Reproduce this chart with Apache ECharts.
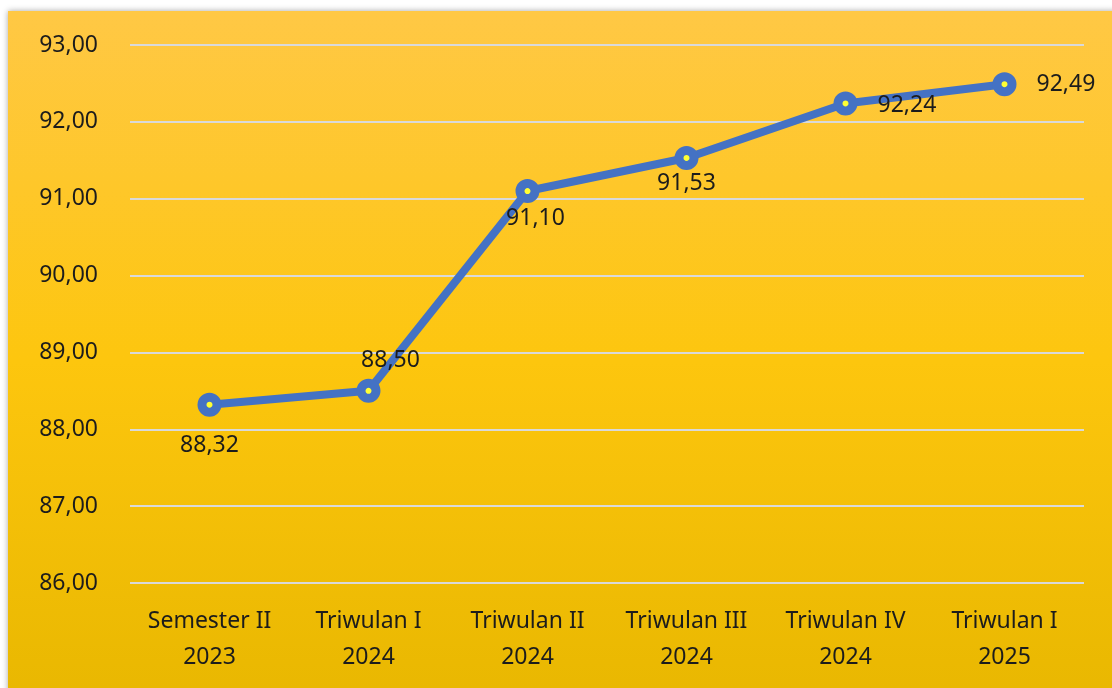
<!DOCTYPE html>
<html>
<head>
<meta charset="utf-8">
<script src="https://cdn.jsdelivr.net/npm/echarts@6/dist/echarts.min.js"></script>
<style>html,body{margin:0;padding:0;background:#fff}#c{width:1112px;height:688px}</style>
</head>
<body>
<div id="c"></div>
<script>
const categories = ['Semester II\n2023', 'Triwulan I\n2024', 'Triwulan II\n2024', 'Triwulan III\n2024', 'Triwulan IV\n2024', 'Triwulan I\n2025'];
const values = [88.32, 88.50, 91.10, 91.53, 92.24, 92.49];
const yMin = 86, yMax = 93, yStep = 1;

const labelOffsets = [[0, 3], [22, 1], [8, 2], [0, 0], [0, 2], [0, 0]];
const labelPositions = ['bottom', 'top', 'bottom', 'bottom', 'right', 'right'];
const labelDistances = [14, 8, 2, 2, 20, 20];

const fmt = v => v.toFixed(2).replace('.', ',');

const chart = echarts.init(document.getElementById('c'), null, {renderer: 'canvas'});
chart.setOption({
  animation: false,
  backgroundColor: '#ffffff',
  graphic: [{
    type: 'rect', z: -10, silent: true,
    shape: {x: 8, y: 11, width: 1120, height: 700},
    style: {
      fill: new echarts.graphic.LinearGradient(0, 0, 0, 1, [
        {offset: 0, color: '#FFC845'},
        {offset: 0.5, color: '#FDC60E'},
        {offset: 1, color: '#E8B700'}
      ]),
      shadowBlur: 6, shadowColor: 'rgba(0,0,0,0.35)', shadowOffsetX: 0, shadowOffsetY: 0
    }
  }],
  grid: {left: 130, right: 28, top: 45, bottom: 105},
  xAxis: {
    type: 'category', data: categories, boundaryGap: true,
    axisLine: {show: false}, axisTick: {show: false},
    axisLabel: {fontFamily: 'Noto Sans', fontSize: 23, color: '#1c1c1c', lineHeight: 36, margin: 20, interval: 0}
  },
  yAxis: {
    type: 'value', min: yMin, max: yMax, interval: yStep,
    axisLine: {show: false}, axisTick: {show: false},
    axisLabel: {fontFamily: 'Noto Sans', fontSize: 23, color: '#1c1c1c', margin: 32, formatter: v => fmt(v)},
    splitLine: {lineStyle: {color: '#D9D9D9', width: 2}}
  },
  series: [{
    type: 'line',
    data: values.map((v, i) => ({
      value: v,
      label: {position: labelPositions[i], distance: labelDistances[i], offset: labelOffsets[i]}
    })),
    lineStyle: {color: '#4472C4', width: 8},
    symbol: 'circle', symbolSize: 15,
    itemStyle: {color: '#FFFF33', borderColor: '#4472C4', borderWidth: 9},
    label: {show: true, fontFamily: 'Noto Sans', fontSize: 23, color: '#1c1c1c', formatter: p => fmt(p.value)},
    z: 5
  }]
});
</script>
</body>
</html>
